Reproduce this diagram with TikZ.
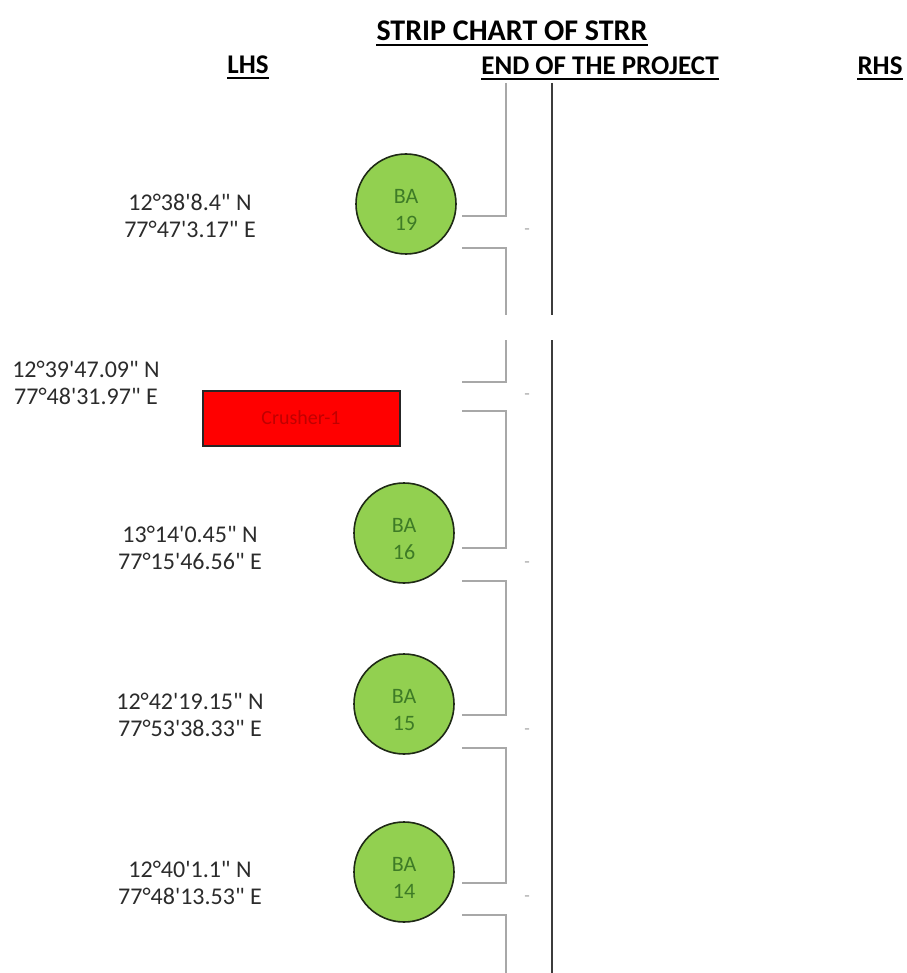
\documentclass[tikz,border=0pt]{standalone}
\usepackage{fontspec}
\setmainfont{Carlito}
\usetikzlibrary{calc}
\definecolor{bagreen}{HTML}{92D050}
\definecolor{batext}{HTML}{3E7B26}
\definecolor{rim}{HTML}{1F2A16}
\definecolor{crushred}{HTML}{FF0000}
\definecolor{crushtext}{HTML}{C00000}
\definecolor{chain}{HTML}{A8A8A8}
\definecolor{axis}{HTML}{3C3C3C}
\definecolor{coord}{HTML}{2B2B2B}
\newcommand{\mn}{\textquotesingle}
\newcommand{\arcsec}{\textquotedbl}
\tikzset{
  titletext/.style={font=\fontsize{30}{34}\selectfont\bfseries, inner sep=0pt},
  subtitle/.style={font=\fontsize{27}{31}\selectfont\bfseries, inner sep=0pt},
  uline/.style={draw=black, line width=2pt},
  pit/.style={circle, draw=rim, line width=1.6pt, fill=bagreen, minimum size=100pt, inner sep=0pt},
  pittext/.style={align=center, text=batext, inner sep=0pt, font=\fontsize{22}{27}\selectfont},
  crusher/.style={rectangle, draw=black!85, line width=2pt, fill=crushred,
    minimum width=197pt, minimum height=55pt, text=crushtext, font=\fontsize{20}{22}\selectfont},
  latlon/.style={align=center, text=coord, inner sep=0pt, font=\fontsize{24}{27}\selectfont},
  road/.style={draw=chain, line width=2.4pt},
  rhsline/.style={draw=axis, line width=2pt},
  midtick/.style={text=chain, inner sep=0pt, font=\fontsize{18}{18}\selectfont}
}
\begin{document}
\begin{tikzpicture}[x=1pt, y=-1pt]
  \useasboundingbox (0,0) rectangle (906,973);

  % headings
  \node[titletext] (title) at (512,31) {STRIP CHART OF STRR};
  \draw[uline] ($(title.south west)+(0,4)$) -- ($(title.south east)+(0,4)$);
  \node[subtitle] (lhs) at (248,65) {LHS};
  \node[subtitle] (eop) at (600,66) {END OF THE PROJECT};
  \node[subtitle] (rhs) at (880,66) {RHS};
  \foreach \h in {lhs,eop,rhs}
    \draw[uline] ($(\h.south west)+(0,4)$) -- ($(\h.south east)+(0,4)$);

  % borrow areas
  \foreach \n/\x/\y in {19/406/204,16/404/533,15/404/704,14/404/872}{
    \node[pit] (c\n) at (\x,\y) {};
    \node[pittext] (t\n) at (\x,\y+6) {BA\\\n};
  }
  \node[crusher] (cr) at (301,418) {Crusher-1};

  % lat / long
  \foreach \n/\x/\y/\lat/\lon in {
      19/190/216/{12°38\mn8.4\arcsec{} N}/{77°47\mn3.17\arcsec{} E},
      Cr/86/383/{12°39\mn47.09\arcsec{} N}/{77°48\mn31.97\arcsec{} E},
      16/190/548/{13°14\mn0.45\arcsec{} N}/{77°15\mn46.56\arcsec{} E},
      15/190/715/{12°42\mn19.15\arcsec{} N}/{77°53\mn38.33\arcsec{} E},
      14/190/883/{12°40\mn1.1\arcsec{} N}/{77°48\mn13.53\arcsec{} E}}
    \node[latlon] (p\n) at (\x,\y) {\lat\\\lon};

  % strip lines
  \coordinate (gl0) at (506,83);
  \coordinate (gl1) at (506,315);
  \coordinate (gl2) at (506,340);
  \coordinate (gl3) at (506,973);
  \coordinate (rl0) at (552,83);
  \coordinate (rl1) at (552,315);
  \coordinate (rl2) at (552,340);
  \coordinate (rl3) at (552,973);
  \foreach \n/\ya/\yb in {19/216/248,Cr/382/411,16/548/581,15/715/748,14/883/915}{
    \coordinate (a\n) at (462,\ya);
    \coordinate (b\n) at (462,\yb);
    \node[midtick] (d\n) at (527,{(\ya+\yb)/2}) {-};
  }
  \draw[road] (gl0) |- (a19);
  \draw[road] (b19) -| (gl1);
  \draw[road] (gl2) |- (aCr);
  \foreach \p/\q in {Cr/16,16/15,15/14}
    \draw[road] (b\p) -| ($(a\q)+(44,0)$) -- (a\q);
  \draw[road] (b14) -| (gl3);
  \draw[rhsline] (rl0) -- (rl1);
  \draw[rhsline] (rl2) -- (rl3);
\end{tikzpicture}
\end{document}
